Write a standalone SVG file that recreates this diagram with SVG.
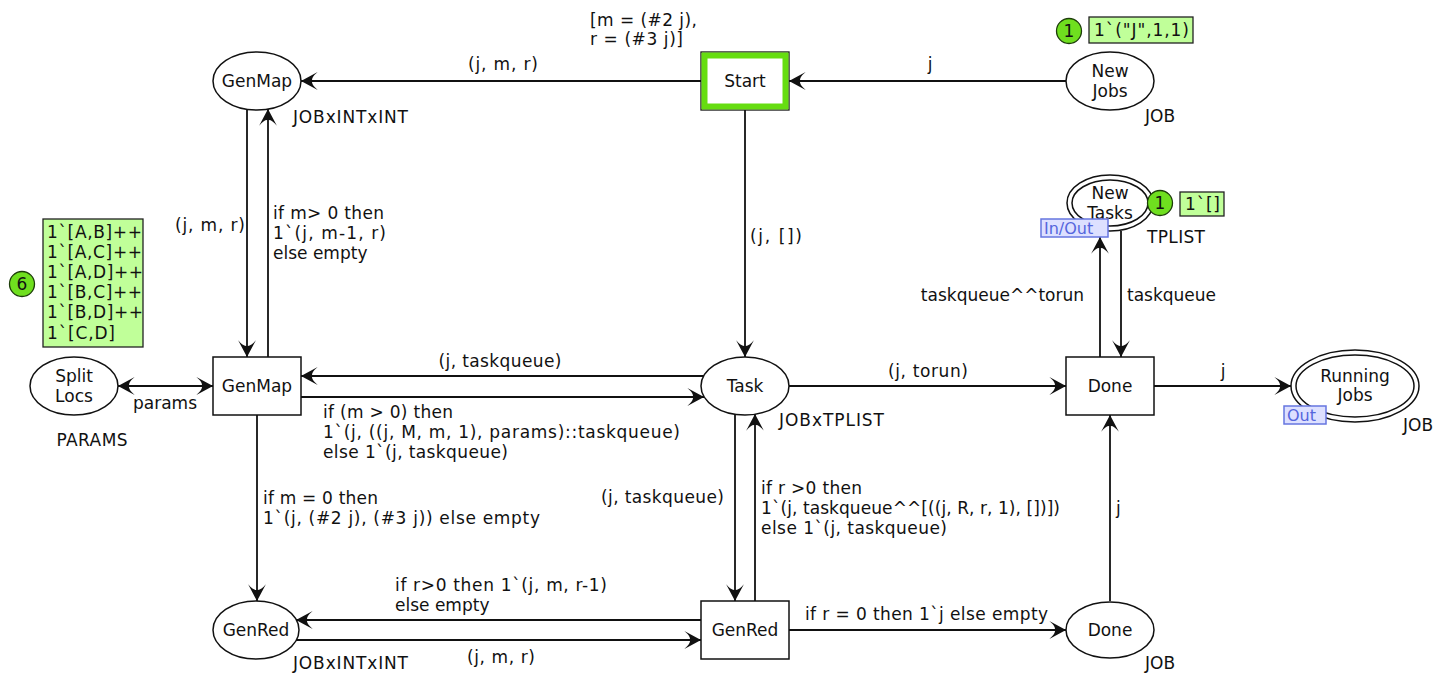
<svg xmlns="http://www.w3.org/2000/svg" width="1444" height="675" viewBox="0 0 1444 675">
<defs>
<style>
text{font-family:"DejaVu Sans",Verdana,sans-serif;font-size:17px;fill:#111}
.mid{text-anchor:middle}
.end{text-anchor:end}
.place,.trans{fill:#fff;stroke:#111;stroke-width:1.5}
.arc{fill:none;stroke:#111;stroke-width:1.8;marker-end:url(#ah)}
.tok{fill:#6fdf1f;stroke:#1d3d0a;stroke-width:1.3}
.tokbox{fill:#c0ff99;stroke:#222;stroke-width:1.3}
.tag{fill:#dde0ff;stroke:#6676e0;stroke-width:1.5}
.tagt{fill:#5566dd;font-size:16px}
</style>
<marker id="ah" markerUnits="userSpaceOnUse" markerWidth="20" markerHeight="20" viewBox="-16 -9 17 18" refX="0" refY="0" orient="auto-start-reverse">
<path d="M0,0 L-15,-8 Q-9,-3 -10,0 Q-9,3 -15,8 Z" fill="#111"/>
</marker>
</defs>
<rect width="1444" height="675" fill="#fff"/>

<g id="connectors">
<g id="a-start-genmap"><path class="arc" d="M701,81 L301,81"/><text class="mid" x="503" y="70" textLength="70" lengthAdjust="spacing">(j, m, r)</text></g>
<g id="a-newjobs-start"><path class="arc" d="M1066,81 L789,81"/><text class="mid" x="930" y="70">j</text></g>
<g id="a-start-task"><path class="arc" d="M745,110 L745,357"/><text x="750" y="242" textLength="52" lengthAdjust="spacing">(j, [])</text></g>
<g id="a-genmapP-genmapT"><path class="arc" d="M247,109 L247,357"/><text class="end" x="245" y="231" textLength="70" lengthAdjust="spacing">(j, m, r)</text></g>
<g id="a-genmapT-genmapP"><path class="arc" d="M268,357 L268,109"/><text x="273" y="219" textLength="111" lengthAdjust="spacing">if m&gt; 0 then</text><text x="273" y="239" textLength="113" lengthAdjust="spacing">1`(j, m-1, r)</text><text x="273" y="259">else empty</text></g>
<g id="a-split-genmap"><path class="arc" style="marker-start:url(#ah)" d="M118,386 L213,386"/><text class="mid" x="165" y="409">params</text></g>
<g id="a-task-genmapT"><path class="arc" d="M704,376 L301,376"/><text class="mid" x="500" y="367" textLength="123" lengthAdjust="spacing">(j, taskqueue)</text></g>
<g id="a-genmapT-task"><path class="arc" d="M301,397 L704,397"/><text x="323" y="418" textLength="130" lengthAdjust="spacing">if (m &gt; 0) then</text><text x="323" y="438" textLength="357" lengthAdjust="spacing">1`(j, ((j, M, m, 1), params)::taskqueue)</text><text x="323" y="458" textLength="185" lengthAdjust="spacing">else 1`(j, taskqueue)</text></g>
<g id="a-genmapT-genredP"><path class="arc" d="M257,415 L257,601"/><text x="263" y="504" textLength="115" lengthAdjust="spacing">if m = 0 then</text><text x="263" y="524" textLength="277" lengthAdjust="spacing">1`(j, (#2 j), (#3 j)) else empty</text></g>
<g id="a-task-genredT"><path class="arc" d="M735,414 L735,601"/><text class="end" x="724" y="503" textLength="123" lengthAdjust="spacing">(j, taskqueue)</text></g>
<g id="a-genredT-task"><path class="arc" d="M755,601 L755,414"/><text x="761" y="494" textLength="101" lengthAdjust="spacing">if r &gt;0 then</text><text x="761" y="514" textLength="299" lengthAdjust="spacing">1`(j, taskqueue^^[((j, R, r, 1), [])])</text><text x="761" y="534" textLength="186" lengthAdjust="spacing">else 1`(j, taskqueue)</text></g>
<g id="a-genredT-genredP"><path class="arc" d="M701,620 L296,620"/><text x="395" y="591" textLength="212" lengthAdjust="spacing">if r&gt;0 then 1`(j, m, r-1)</text><text x="395" y="611">else empty</text></g>
<g id="a-genredP-genredT"><path class="arc" d="M296,640 L701,640"/><text class="mid" x="501" y="663" textLength="68" lengthAdjust="spacing">(j, m, r)</text></g>
<g id="a-genredT-doneP"><path class="arc" d="M789,630 L1066,630"/><text x="805" y="620" textLength="243" lengthAdjust="spacing">if r = 0 then 1`j else empty</text></g>
<g id="a-doneP-doneT"><path class="arc" d="M1110,601 L1110,415"/><text x="1116" y="514">j</text></g>
<g id="a-task-doneT"><path class="arc" d="M789,386 L1066,386"/><text class="mid" x="928" y="377" textLength="80" lengthAdjust="spacing">(j, torun)</text></g>
<g id="a-doneT-newtasks"><path class="arc" d="M1100,357 L1100,237"/><text class="end" x="1084" y="301">taskqueue^^torun</text></g>
<g id="a-newtasks-doneT"><path class="arc" d="M1121,231 L1121,357"/><text x="1127" y="301">taskqueue</text></g>
<g id="a-doneT-running"><path class="arc" d="M1154,386 L1291,386"/><text class="mid" x="1223" y="377">j</text></g>
</g>

<g id="p-genmap">
<ellipse class="place" cx="257" cy="81" rx="44" ry="29"/>
<text class="mid" x="257" y="87">GenMap</text>
<text x="293" y="123" textLength="115" lengthAdjust="spacing">JOBxINTxINT</text>
</g>

<g id="t-start">
<rect x="701" y="52" width="88" height="58" fill="#fff" stroke="#111" stroke-width="1.3"/>
<rect x="704.5" y="55.5" width="81" height="51" fill="none" stroke="#66dd11" stroke-width="6"/>
<text class="mid" x="745" y="87">Start</text>
<text x="590" y="26" textLength="107" lengthAdjust="spacing">[m = (#2 j),</text>
<text x="590" y="45" textLength="93" lengthAdjust="spacing">r = (#3 j)]</text>
</g>

<g id="p-newjobs">
<ellipse class="place" cx="1110" cy="81" rx="44" ry="29"/>
<text class="mid" x="1110" y="77">New</text>
<text class="mid" x="1110" y="97">Jobs</text>
<text x="1145" y="122">JOB</text>
<circle class="tok" cx="1069" cy="31" r="12.5"/>
<text class="mid" x="1069" y="37">1</text>
<rect class="tokbox" x="1089" y="17" width="104" height="26"/>
<text x="1094" y="36" textLength="95" lengthAdjust="spacing">1`("J",1,1)</text>
</g>

<g id="p-newtasks">
<ellipse class="place" cx="1110" cy="203" rx="43" ry="28"/>
<ellipse cx="1110" cy="203" rx="38" ry="23" fill="none" stroke="#111" stroke-width="1.5"/>
<text class="mid" x="1110" y="199">New</text>
<text class="mid" x="1110" y="219">Tasks</text>
<rect class="tag" x="1041" y="219" width="67" height="18"/>
<text class="tagt" x="1044" y="234">In/Out</text>
<text x="1147" y="243" textLength="58" lengthAdjust="spacing">TPLIST</text>
<circle class="tok" cx="1160" cy="203" r="12.5"/>
<text class="mid" x="1160" y="209">1</text>
<rect class="tokbox" x="1180" y="192" width="44" height="24"/>
<text x="1185" y="210" textLength="35" lengthAdjust="spacing">1`[]</text>
</g>

<g id="p-splitlocs">
<ellipse class="place" cx="74" cy="386" rx="44" ry="29"/>
<text class="mid" x="74" y="382">Split</text>
<text class="mid" x="74" y="402">Locs</text>
<text class="mid" x="92" y="446" textLength="71" lengthAdjust="spacing">PARAMS</text>
<circle class="tok" cx="22" cy="284" r="12.5"/>
<text class="mid" x="22" y="290">6</text>
<rect class="tokbox" x="43" y="219" width="100" height="128"/>
<text x="47" y="238" textLength="95" lengthAdjust="spacing">1`[A,B]++</text>
<text x="47" y="258" textLength="95" lengthAdjust="spacing">1`[A,C]++</text>
<text x="47" y="278" textLength="96" lengthAdjust="spacing">1`[A,D]++</text>
<text x="47" y="298" textLength="95" lengthAdjust="spacing">1`[B,C]++</text>
<text x="47" y="318" textLength="96" lengthAdjust="spacing">1`[B,D]++</text>
<text x="47" y="339" textLength="68" lengthAdjust="spacing">1`[C,D]</text>
</g>

<g id="t-genmap">
<rect class="trans" x="213" y="357" width="88" height="58"/>
<text class="mid" x="257" y="392">GenMap</text>
</g>

<g id="p-task">
<ellipse class="place" cx="745" cy="386" rx="44" ry="29"/>
<text class="mid" x="745" y="392">Task</text>
<text x="779" y="426" textLength="105" lengthAdjust="spacing">JOBxTPLIST</text>
</g>

<g id="t-done">
<rect class="trans" x="1066" y="357" width="88" height="58"/>
<text class="mid" x="1110" y="392">Done</text>
</g>

<g id="p-running">
<ellipse class="place" cx="1355" cy="386" rx="64" ry="36"/>
<ellipse cx="1355" cy="386" rx="59" ry="31" fill="none" stroke="#111" stroke-width="1.5"/>
<text class="mid" x="1355" y="382">Running</text>
<text class="mid" x="1355" y="401">Jobs</text>
<rect class="tag" x="1284" y="406" width="42" height="18"/>
<text class="tagt" x="1287" y="421">Out</text>
<text x="1403" y="431">JOB</text>
</g>

<g id="p-genred">
<ellipse class="place" cx="256" cy="630" rx="43" ry="29"/>
<text class="mid" x="256" y="636">GenRed</text>
<text x="293" y="669" textLength="115" lengthAdjust="spacing">JOBxINTxINT</text>
</g>

<g id="t-genred">
<rect class="trans" x="701" y="601" width="88" height="58"/>
<text class="mid" x="745" y="636">GenRed</text>
</g>

<g id="p-done">
<ellipse class="place" cx="1110" cy="630" rx="44" ry="28"/>
<text class="mid" x="1110" y="636">Done</text>
<text x="1145" y="669">JOB</text>
</g>
</svg>
